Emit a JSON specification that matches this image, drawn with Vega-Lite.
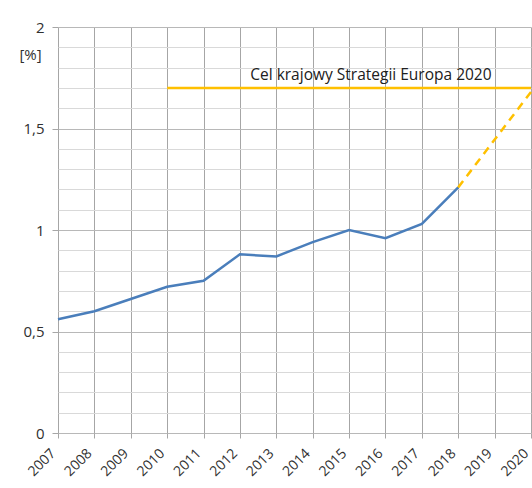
{
  "$schema": "https://vega.github.io/schema/vega-lite/v6.json",
  "width": 473,
  "height": 406,
  "autosize": {"type": "none"},
  "padding": {"left": 58, "top": 27, "right": 1, "bottom": 55},
  "background": "white",
  "config": {
    "view": {"stroke": null},
    "font": "Open Sans",
    "axis": {"labelFont": "Open Sans", "titleFont": "Open Sans"}
  },
  "datasets": {
    "actual": [
      {"year": 2007, "value": 0.56},
      {"year": 2008, "value": 0.60},
      {"year": 2009, "value": 0.66},
      {"year": 2010, "value": 0.72},
      {"year": 2011, "value": 0.75},
      {"year": 2012, "value": 0.88},
      {"year": 2013, "value": 0.87},
      {"year": 2014, "value": 0.94},
      {"year": 2015, "value": 1.00},
      {"year": 2016, "value": 0.96},
      {"year": 2017, "value": 1.03},
      {"year": 2018, "value": 1.21}
    ],
    "target": [
      {"year": 2010, "value": 1.7},
      {"year": 2020, "value": 1.7}
    ],
    "projection": [
      {"year": 2018, "value": 1.21},
      {"year": 2020, "value": 1.68}
    ],
    "label": [
      {"year": 2015.6, "value": 1.7, "text": "Cel krajowy Strategii Europa 2020"}
    ]
  },
  "encoding": {
    "x": {
      "field": "year", "type": "quantitative",
      "scale": {"domain": [2007, 2020], "nice": false, "zero": false},
      "axis": {
        "values": [2007, 2008, 2009, 2010, 2011, 2012, 2013, 2014, 2015, 2016, 2017, 2018, 2019, 2020],
        "format": "d",
        "title": null,
        "labelAngle": -45,
        "labelAlign": "right",
        "labelBaseline": "middle",
        "labelFontSize": 14,
        "labelColor": "#303030",
        "labelPadding": 13,
        "labelOffset": -5,
        "grid": true,
        "gridColor": "#a6a6a6",
        "gridWidth": 1,
        "domain": false,
        "tickColor": "#a6a6a6",
        "tickSize": 5,
        "labelOverlap": false,
        "labelFlush": false,
        "labelBound": false
      }
    },
    "y": {
      "field": "value", "type": "quantitative",
      "scale": {"domain": [0, 2], "nice": false},
      "axis": {
        "values": [0, 0.1, 0.2, 0.3, 0.4, 0.5, 0.6, 0.7, 0.8, 0.9, 1, 1.1, 1.2, 1.3, 1.4, 1.5, 1.6, 1.7, 1.8, 1.9, 2],
        "labelExpr": "abs(datum.value*2 - round(datum.value*2)) < 0.001 ? replace(format(datum.value, '~g'), '.', ',') : ''",
        "labelOverlap": false,
        "labelFlush": false,
        "title": "[%]",
        "titleAngle": 0,
        "titleFontWeight": "normal",
        "titleFontSize": 15,
        "titleColor": "#303030",
        "titleX": -28,
        "titleY": 27,
        "titleAlign": "center",
        "titleBaseline": "middle",
        "labelFontSize": 15,
        "labelColor": "#303030",
        "labelPadding": 8,
        "domain": false,
        "tickSize": 6,
        "tickColor": {"condition": {"test": "abs(datum.value*2 - round(datum.value*2)) < 0.001", "value": "#a6a6a6"}, "value": "transparent"},
        "grid": true,
        "gridColor": {"condition": {"test": "abs(datum.value*2 - round(datum.value*2)) < 0.001", "value": "#b8b8b8"}, "value": "#d9d9d9"},
        "gridWidth": 1
      }
    }
  },
  "layer": [
    {
      "data": {"name": "actual"},
      "mark": {"type": "line", "color": "#4a7ebb", "strokeWidth": 2.5}
    },
    {
      "data": {"name": "target"},
      "mark": {"type": "line", "color": "#ffc000", "strokeWidth": 2.5}
    },
    {
      "data": {"name": "projection"},
      "mark": {"type": "line", "color": "#ffc000", "strokeWidth": 2.5, "strokeDash": [8, 6]}
    },
    {
      "data": {"name": "label"},
      "mark": {"type": "text", "fontSize": 15.5, "color": "#202020", "dy": -13, "align": "center", "baseline": "middle"},
      "encoding": {
        "text": {"field": "text"}
      }
    }
  ]
}
